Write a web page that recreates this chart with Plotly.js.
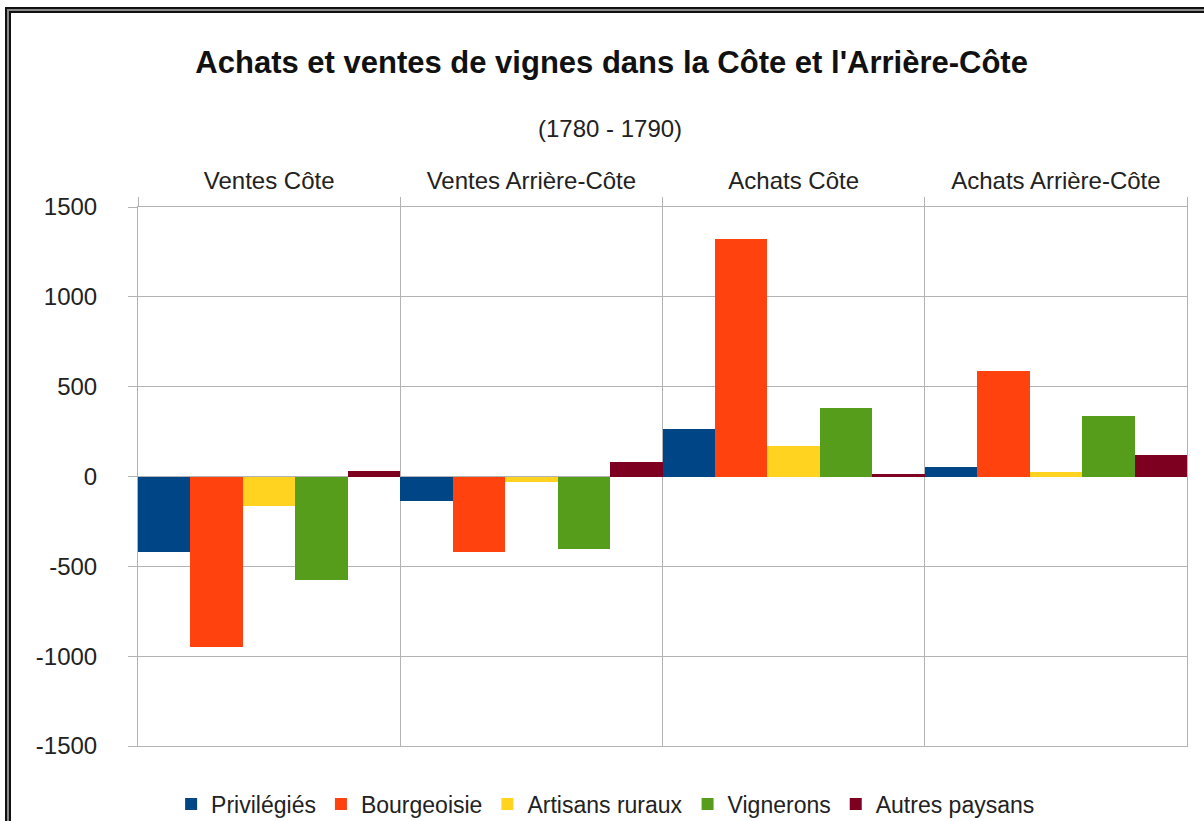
<!DOCTYPE html>
<html>
<head>
<meta charset="utf-8">
<script src="https://cdn.plot.ly/plotly-3.0.1.min.js"></script>
<style>
  html, body { margin: 0; padding: 0; background: #fff; overflow: hidden; }
  #frame {
    position: absolute; left: 5px; top: 7px; width: 1300px; height: 900px;
    border: 2px solid #111; box-sizing: border-box;
    box-shadow: inset 0 0 0 2px #8a8a8a, inset 0 0 0 4px #111;
    z-index: 0;
  }
  #chart { position: absolute; left: 0; top: 0; width: 1204px; height: 821px; z-index: 1; }
</style>
</head>
<body>
<div id="frame"></div>
<div id="chart"></div>
<script>
const categories = ["Ventes Côte", "Ventes Arrière-Côte", "Achats Côte", "Achats Arrière-Côte"];
const seriesNames = ["Privilégiés", "Bourgeoisie", "Artisans ruraux", "Vignerons", "Autres paysans"];
const privilegies   = [-420, -135, 265, 55];
const bourgeoisie   = [-950, -420, 1320, 585];
const artisans      = [-165, -30, 170, 25];
const vignerons     = [-575, -405, 380, 335];
const autresPaysans = [30, 80, 15, 120];
const seriesColors = ["#004586", "#ff420e", "#ffd320", "#579d1c", "#7e0021"];
const yTickValues = [-1500, -1000, -500, 0, 500, 1000, 1500];
const yTickLabels = ["-1500", "-1000", "-500", "0", "500", "1000", "1500"];

const seriesValues = [privilegies, bourgeoisie, artisans, vignerons, autresPaysans];
const FONT = "Liberation Sans, Arial, sans-serif";
const GRID = "#b3b3b3";

const traces = seriesValues.map((vals, i) => ({
  type: "bar",
  name: seriesNames[i],
  x: categories,
  y: vals,
  marker: { color: seriesColors[i], line: { width: 0 } },
  hoverinfo: "x+y+name"
}));

const layout = {
  width: 1204, height: 821,
  paper_bgcolor: "rgba(0,0,0,0)",
  plot_bgcolor: "#ffffff",
  margin: { l: 138, r: 17, t: 207, b: 75 },
  font: { family: FONT, size: 24, color: "#222" },
  barmode: "group",
  bargap: 0,
  bargroupgap: 0,
  title: {
    text: "<b>Achats et ventes de vignes dans la Côte et l'Arrière-Côte</b>",
    font: { family: FONT, size: 31, color: "#111" },
    xref: "container", x: 0.508, xanchor: "center",
    yref: "container", y: 1 - 62 / 821, yanchor: "middle"
  },
  annotations: [{
    text: "(1780 - 1790)",
    xref: "paper", x: (610 - 138) / 1049, xanchor: "center",
    yref: "paper", y: (746 - 128) / 539, yanchor: "middle",
    showarrow: false,
    font: { family: FONT, size: 24, color: "#222" }
  }],
  xaxis: {
    type: "category",
    side: "top",
    tickson: "boundaries",
    range: [-0.5, 3.5],
    showgrid: true, gridcolor: GRID, gridwidth: 1,
    showline: true, linecolor: GRID, linewidth: 1, mirror: true,
    ticks: "outside", ticklen: 9, tickcolor: GRID,
    ticklabelstandoff: 7,
    tickfont: { family: FONT, size: 24, color: "#222" },
    fixedrange: true
  },
  yaxis: {
    range: [-1500, 1500],
    tickmode: "array",
    tickvals: yTickValues,
    ticktext: yTickLabels,
    showgrid: true, gridcolor: GRID, gridwidth: 1,
    zeroline: false,
    showline: true, linecolor: GRID, linewidth: 1, mirror: true,
    ticks: "outside", ticklen: 9, tickcolor: GRID,
    ticklabelstandoff: 26,
    tickfont: { family: FONT, size: 24, color: "#222" },
    fixedrange: true
  },
  legend: {
    orientation: "h",
    xref: "container", x: 0.503, xanchor: "center",
    yref: "container", y: 1 - 804 / 821, yanchor: "middle",
    font: { family: FONT, size: 23, color: "#222" },
    itemwidth: 30,
    traceorder: "normal"
  },
  showlegend: true
};

Plotly.newPlot("chart", traces, layout, { displayModeBar: false, staticPlot: true });
</script>
</body>
</html>
